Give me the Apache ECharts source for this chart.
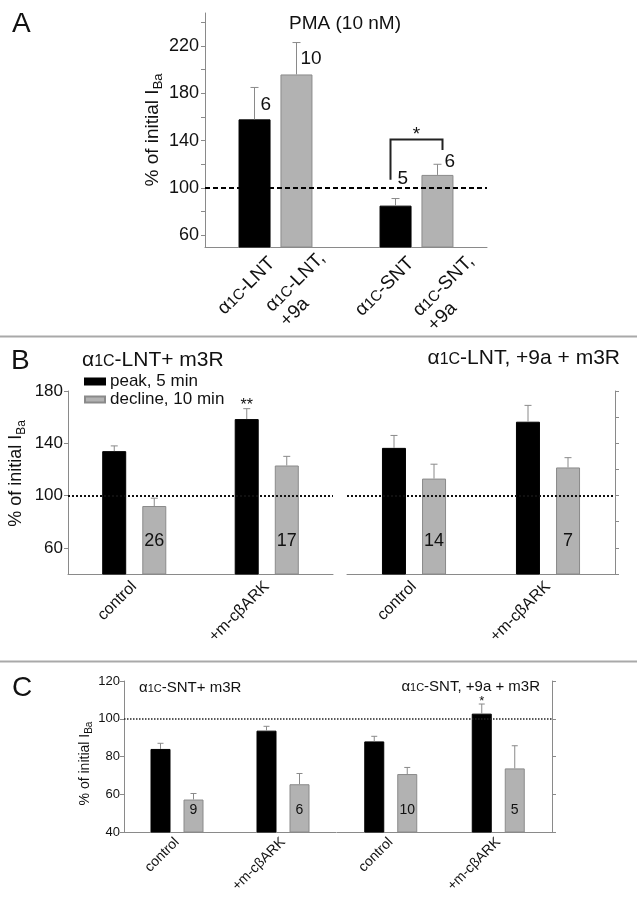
<!DOCTYPE html>
<html><head><meta charset="utf-8">
<script src="https://cdn.jsdelivr.net/npm/echarts@6/dist/echarts.min.js"></script>
<style>html,body{margin:0;padding:0;background:#fff}#c{width:637px;height:899px}</style>
</head><body><div id="c"></div>
<script>
// ================= DATA =================
// Panel A : PMA (10 nM)
const aGroups = ['α1C-LNT', 'α1C-SNT'];
const aBarLabels = [['α1C-LNT'], ['α1C-LNT,', '+9a'], ['α1C-SNT'], ['α1C-SNT,', '+9a']];
const aBlack = [158, 85];
const aBlackErr = [185, 91];
const aGray = [196, 111];
const aGrayErr = [223, 120];
const aN = ['6', '10', '5', '6'];            // black LNT, gray LNT, black SNT, gray SNT
const aSig = { top: 141, leftEnd: 107, rightEnd: 132, mark: '*' };
const aYLabels = [60, 100, 140, 180, 220];
const aYTicks = [60, 80, 100, 120, 140, 160, 180, 200, 220, 240];

// Panel B
const bCats = ['control', '+m-cβARK'];
const bLntPeak = [134, 158.5];
const bLntPeakErr = [138, 166.5];
const bLntDecline = [92, 123];
const bLntDeclineErr = [98, 130];
const bLntN = ['26', '17'];
const bLntStars = ['', '**'];
const b9aPeak = [136.5, 156.5];
const b9aPeakErr = [146, 169];
const b9aDecline = [113, 121.5];
const b9aDeclineErr = [124, 129];
const b9aN = ['14', '7'];
const b9aStars = ['', ''];
const bYLabels = [60, 100, 140, 180];

// Panel C
const cCats = ['control', '+m-cβARK'];
const cSntPeak = [84, 93.7];
const cSntPeakErr = [87, 96];
const cSntDecline = [57.2, 65.3];
const cSntDeclineErr = [60.4, 71];
const cSntN = ['9', '6'];
const cSntStars = ['', ''];
const c9aPeak = [88, 102.7];
const c9aPeakErr = [90.7, 107.8];
const c9aDecline = [70.7, 73.7];
const c9aDeclineErr = [74.2, 85.7];
const c9aN = ['10', '5'];
const c9aStars = ['', '*'];

// ================= STYLE =================
const FONT = '"Liberation Sans", Arial, Helvetica, sans-serif';
const TXT = '#111';
const AXIS = '#8a8a8a';
const ERR = '#8a8a8a';
const GRAY = '#b2b2b2';
const GRAY_BORDER = '#8a8a8a';

function alphaText(s) { // 'α1C-LNT' -> rich markup
  return s.replace('α1C', '{t|α}{s|1C}{t|').concat('}');
}
function alphaRich(size, small) {
  return {
    t: { fontSize: size, fontFamily: FONT, color: TXT, align: 'left' },
    s: { fontSize: small, fontFamily: FONT, color: TXT, align: 'left', padding: [0.7 * (size - small), 0, 0, 0] }
  };
}

const chart = echarts.init(document.getElementById('c'), null, { renderer: 'canvas' });

const grids = [
  { left: 205, top: 13, width: 282, height: 234 },   // A
  { left: 68, top: 391, width: 265, height: 183 },   // B left
  { left: 347, top: 391, width: 268, height: 183 },  // B right
  { left: 124, top: 681, width: 212, height: 151 },  // C left
  { left: 337, top: 681, width: 215, height: 151 }   // C right
];

function xAxis(gi, cats, showLabel, fontSize, margin) {
  return {
    type: 'category', gridIndex: gi, data: cats,
    axisLine: { lineStyle: { color: AXIS, width: 1 } },
    axisTick: { alignWithLabel: true, length: 4, lineStyle: { color: AXIS } },
    axisLabel: { show: showLabel, rotate: 45, fontSize: fontSize, fontFamily: FONT, color: TXT, margin: margin },
    splitLine: { show: false }
  };
}
function nameRich(size, sub, pad) {
  return { sub: { fontSize: sub, fontFamily: FONT, color: TXT, padding: [pad, 0, 0, 0] } };
}

const yAxes = [
  { type: 'value', gridIndex: 0, min: 50, max: 248,
    axisLine: { show: true, lineStyle: { color: AXIS } },
    axisTick: { show: true, length: 4, customValues: aYTicks, lineStyle: { color: AXIS } },
    axisLabel: { customValues: aYLabels, fontSize: 18, fontFamily: FONT, color: TXT, margin: 6 },
    splitLine: { show: false },
    name: '% of initial I{sub|Ba}', nameLocation: 'middle', nameRotate: 90, nameGap: 40,
    nameTextStyle: { fontSize: 19, fontFamily: FONT, color: TXT, rich: nameRich(19, 13, 12) } },
  { type: 'value', gridIndex: 1, min: 40, max: 180,
    axisLine: { show: true, lineStyle: { color: AXIS } },
    axisTick: { show: true, length: 4, customValues: bYLabels, lineStyle: { color: AXIS } },
    axisLabel: { customValues: bYLabels, fontSize: 17, fontFamily: FONT, color: TXT, margin: 5 },
    splitLine: { show: false },
    name: '% of initial I{sub|Ba}', nameLocation: 'middle', nameRotate: 90, nameGap: 40,
    nameTextStyle: { fontSize: 18, fontFamily: FONT, color: TXT, padding: [0, 0, 0, 18], rich: nameRich(18, 12, 11) } },
  { type: 'value', gridIndex: 2, position: 'right', min: 40, max: 180, interval: 20,
    axisLine: { show: true, lineStyle: { color: AXIS } },
    axisTick: { show: true, length: 4, lineStyle: { color: AXIS } },
    axisLabel: { show: false }, splitLine: { show: false } },
  { type: 'value', gridIndex: 3, min: 40, max: 120, interval: 20,
    axisLine: { show: true, lineStyle: { color: AXIS } },
    axisTick: { show: true, length: 4, lineStyle: { color: AXIS } },
    axisLabel: { fontSize: 13, fontFamily: FONT, color: TXT, margin: 4 },
    splitLine: { show: false },
    name: '% of initial I{sub|Ba}', nameLocation: 'middle', nameRotate: 90, nameGap: 28,
    nameTextStyle: { fontSize: 14, fontFamily: FONT, color: TXT, padding: [0, 14, 0, 0], rich: nameRich(14, 10, 8) } },
  { type: 'value', gridIndex: 4, position: 'right', min: 40, max: 120, interval: 20,
    axisLine: { show: true, lineStyle: { color: AXIS } },
    axisTick: { show: true, length: 4, lineStyle: { color: AXIS } },
    axisLabel: { show: false }, splitLine: { show: false } }
];

const xAxes = [
  xAxis(0, aGroups, false, 16, 8),
  xAxis(1, bCats, true, 16, 10),
  xAxis(2, bCats, true, 16, 10),
  xAxis(3, cCats, true, 14, 8),
  xAxis(4, cCats, true, 14, 8)
];

function bars(gi, name, values, color, border, width, gap, refLine) {
  const s = {
    type: 'bar', name: name, xAxisIndex: gi, yAxisIndex: gi, data: values,
    barWidth: width, barGap: gap, silent: true,
    itemStyle: { color: color, borderColor: border, borderWidth: 1 }
  };
  if (refLine) {
    s.markLine = { silent: true, symbol: 'none', label: { show: false },
      lineStyle: refLine, data: [{ yAxis: 100 }] };
  }
  return s;
}

// overlay: error bars, n labels, stars (custom series, positioned through the axes)
function overlay(gi, cfg) {
  const data = [];
  for (let i = 0; i < cfg.black.length; i++) {
    data.push([i, 0, cfg.black[i], cfg.blackErr[i]]);
    data.push([i, 1, cfg.gray[i], cfg.grayErr[i]]);
  }
  return {
    type: 'custom', xAxisIndex: gi, yAxisIndex: gi, z: 5, silent: true,
    encode: { x: 0, y: 2 }, data: data,
    renderItem: function (params, api) {
      const i = api.value(0), s = api.value(1), v = api.value(2), e = api.value(3);
      const p = api.coord([i, v]), q = api.coord([i, e]);
      const axisY = api.coord([i, cfg.yMin])[1];
      const x = p[0] + (s ? cfg.half : -cfg.half);
      const children = [
        { type: 'line', shape: { x1: x, y1: p[1], x2: x, y2: q[1] }, style: { stroke: ERR, lineWidth: 1 } },
        { type: 'line', shape: { x1: x - cfg.cap / 2, y1: q[1], x2: x + cfg.cap / 2, y2: q[1] }, style: { stroke: ERR, lineWidth: 1 } }
      ];
      if (cfg.extra) cfg.extra(children, i, s, x, p, q, axisY, api);
      return { type: 'group', children: children };
    }
  };
}

function nInside(nArr, starArr, nFont, rise, starFont) {
  return function (children, i, s, x, p, q, axisY) {
    if (s === 1 && nArr[i]) {
      children.push({ type: 'text', x: x, y: axisY - rise,
        style: { text: nArr[i], fontSize: nFont, fontFamily: FONT, fill: TXT, align: 'center', verticalAlign: 'middle' } });
    }
    if (s === 0 && starArr[i]) {
      children.push({ type: 'text', x: x, y: q[1] - 3,
        style: { text: starArr[i], fontSize: starFont, fontFamily: FONT, fill: TXT, align: 'center', verticalAlign: 'middle' } });
    }
  };
}

// Panel A specifics (label placement offsets are styling)
const aNOffset = [[6, 17], [4, 16], [2, -20], [7, -3]];
const aLabelOffset = [[10, 6], [18, 1], [8, 6], [26, 4]];
function aExtra(children, i, s, x, p, q, axisY, api) {
  const k = i * 2 + s;
  children.push({ type: 'text', x: x + aNOffset[k][0], y: q[1] + aNOffset[k][1],
    style: { text: aN[k], fontSize: 19, fontFamily: FONT, fill: TXT, align: 'left', verticalAlign: 'middle' } });
  const lines = aBarLabels[k].map(function (l) { return l.indexOf('α1C') === 0 ? alphaText(l) : '{t|' + l + '}'; });
  children.push({ type: 'text', x: x + aLabelOffset[k][0], y: axisY + aLabelOffset[k][1], rotation: Math.PI / 4,
    style: { text: lines.join('\n'), fontSize: 19, fontFamily: FONT, fill: TXT, align: 'right', verticalAlign: 'top',
      lineHeight: 21, rich: alphaRich(19, 15) } });
  if (i === 1 && s === 1) {
    const xl = x - 2 * 21 - 5, xr = x + 5;
    const yt = api.coord([i, aSig.top])[1];
    const yl = api.coord([i, aSig.leftEnd])[1];
    const yr = api.coord([i, aSig.rightEnd])[1];
    children.push({ type: 'polyline', shape: { points: [[xl, yl], [xl, yt], [xr, yt], [xr, yr]] },
      style: { stroke: '#222', lineWidth: 2, fill: null } });
    children.push({ type: 'text', x: (xl + xr) / 2, y: yt - 5,
      style: { text: aSig.mark, fontSize: 19, fontFamily: FONT, fill: TXT, align: 'center', verticalAlign: 'middle' } });
  }
}

const dashedA = { type: [5, 3], color: '#000', width: 2 };
const dottedB = { type: [2, 2], color: '#111', width: 2 };
const dottedC = { type: [1.5, 1.5], color: '#222', width: 1.5 };

const series = [
  bars(0, 'A1', aBlack, '#000', '#000', 32, '31%', dashedA),
  bars(0, 'A2', aGray, GRAY, GRAY_BORDER, 32, '31%'),
  overlay(0, { black: aBlack, blackErr: aBlackErr, gray: aGray, grayErr: aGrayErr, half: 21, cap: 8, yMin: 50, extra: aExtra }),

  bars(1, 'peak, 5 min', bLntPeak, '#000', '#000', 24, '67%', dottedB),
  bars(1, 'decline, 10 min', bLntDecline, GRAY, GRAY_BORDER, 24, '67%'),
  overlay(1, { black: bLntPeak, blackErr: bLntPeakErr, gray: bLntDecline, grayErr: bLntDeclineErr, half: 20, cap: 7, yMin: 40,
    extra: nInside(bLntN, bLntStars, 18, 33, 16) }),

  bars(2, 'peak, 5 min', b9aPeak, '#000', '#000', 24, '67%', dottedB),
  bars(2, 'decline, 10 min', b9aDecline, GRAY, GRAY_BORDER, 24, '67%'),
  overlay(2, { black: b9aPeak, blackErr: b9aPeakErr, gray: b9aDecline, grayErr: b9aDeclineErr, half: 20, cap: 7, yMin: 40,
    extra: nInside(b9aN, b9aStars, 18, 33, 16) }),

  bars(3, 'peak, 5 min', cSntPeak, '#000', '#000', 20, '65%', dottedC),
  bars(3, 'decline, 10 min', cSntDecline, GRAY, GRAY_BORDER, 20, '65%'),
  overlay(3, { black: cSntPeak, blackErr: cSntPeakErr, gray: cSntDecline, grayErr: cSntDeclineErr, half: 16.5, cap: 6, yMin: 40,
    extra: nInside(cSntN, cSntStars, 14, 22, 13) }),

  bars(4, 'peak, 5 min', c9aPeak, '#000', '#000', 20, '65%', dottedC),
  bars(4, 'decline, 10 min', c9aDecline, GRAY, GRAY_BORDER, 20, '65%'),
  overlay(4, { black: c9aPeak, blackErr: c9aPeakErr, gray: c9aDecline, grayErr: c9aDeclineErr, half: 16.5, cap: 6, yMin: 40,
    extra: nInside(c9aN, c9aStars, 14, 22, 13) })
];

function gText(x, y, text, size, align, rich) {
  return { type: 'text', x: x, y: y, silent: true,
    style: { text: text, fontSize: size, fontFamily: FONT, fill: TXT, align: align || 'left', verticalAlign: 'middle', rich: rich } };
}

const graphic = [
  { type: 'rect', shape: { x: 0, y: 335.5, width: 637, height: 2 }, style: { fill: '#a9a9a9' }, silent: true },
  { type: 'rect', shape: { x: 0, y: 660.5, width: 637, height: 2 }, style: { fill: '#a9a9a9' }, silent: true },
  gText(12, 24, 'A', 28),
  gText(11, 361, 'B', 28),
  gText(12, 688, 'C', 28),
  gText(345, 24, 'PMA (10 nM)', 19, 'center'),
  gText(82, 360, alphaText('α1C-LNT+ m3R'), 21, 'left', alphaRich(21, 16)),
  gText(620, 358, alphaText('α1C-LNT, +9a + m3R'), 21, 'right', alphaRich(21, 16)),
  gText(139, 688, alphaText('α1C-SNT+ m3R'), 15, 'left', alphaRich(15, 11)),
  gText(540, 687, alphaText('α1C-SNT, +9a + m3R'), 15, 'right', alphaRich(15, 11))
];

chart.setOption({
  animation: false,
  backgroundColor: '#fff',
  textStyle: { fontFamily: FONT },
  grid: grids,
  xAxis: xAxes,
  yAxis: yAxes,
  legend: { data: ['peak, 5 min', 'decline, 10 min'], orient: 'vertical', left: 84, top: 373, padding: 0,
    itemWidth: 20, itemHeight: 6, itemGap: 1, icon: 'rect', selectedMode: false,
    textStyle: { fontSize: 17, fontFamily: FONT, color: TXT } },
  series: series,
  graphic: graphic
});
</script>
</body></html>
